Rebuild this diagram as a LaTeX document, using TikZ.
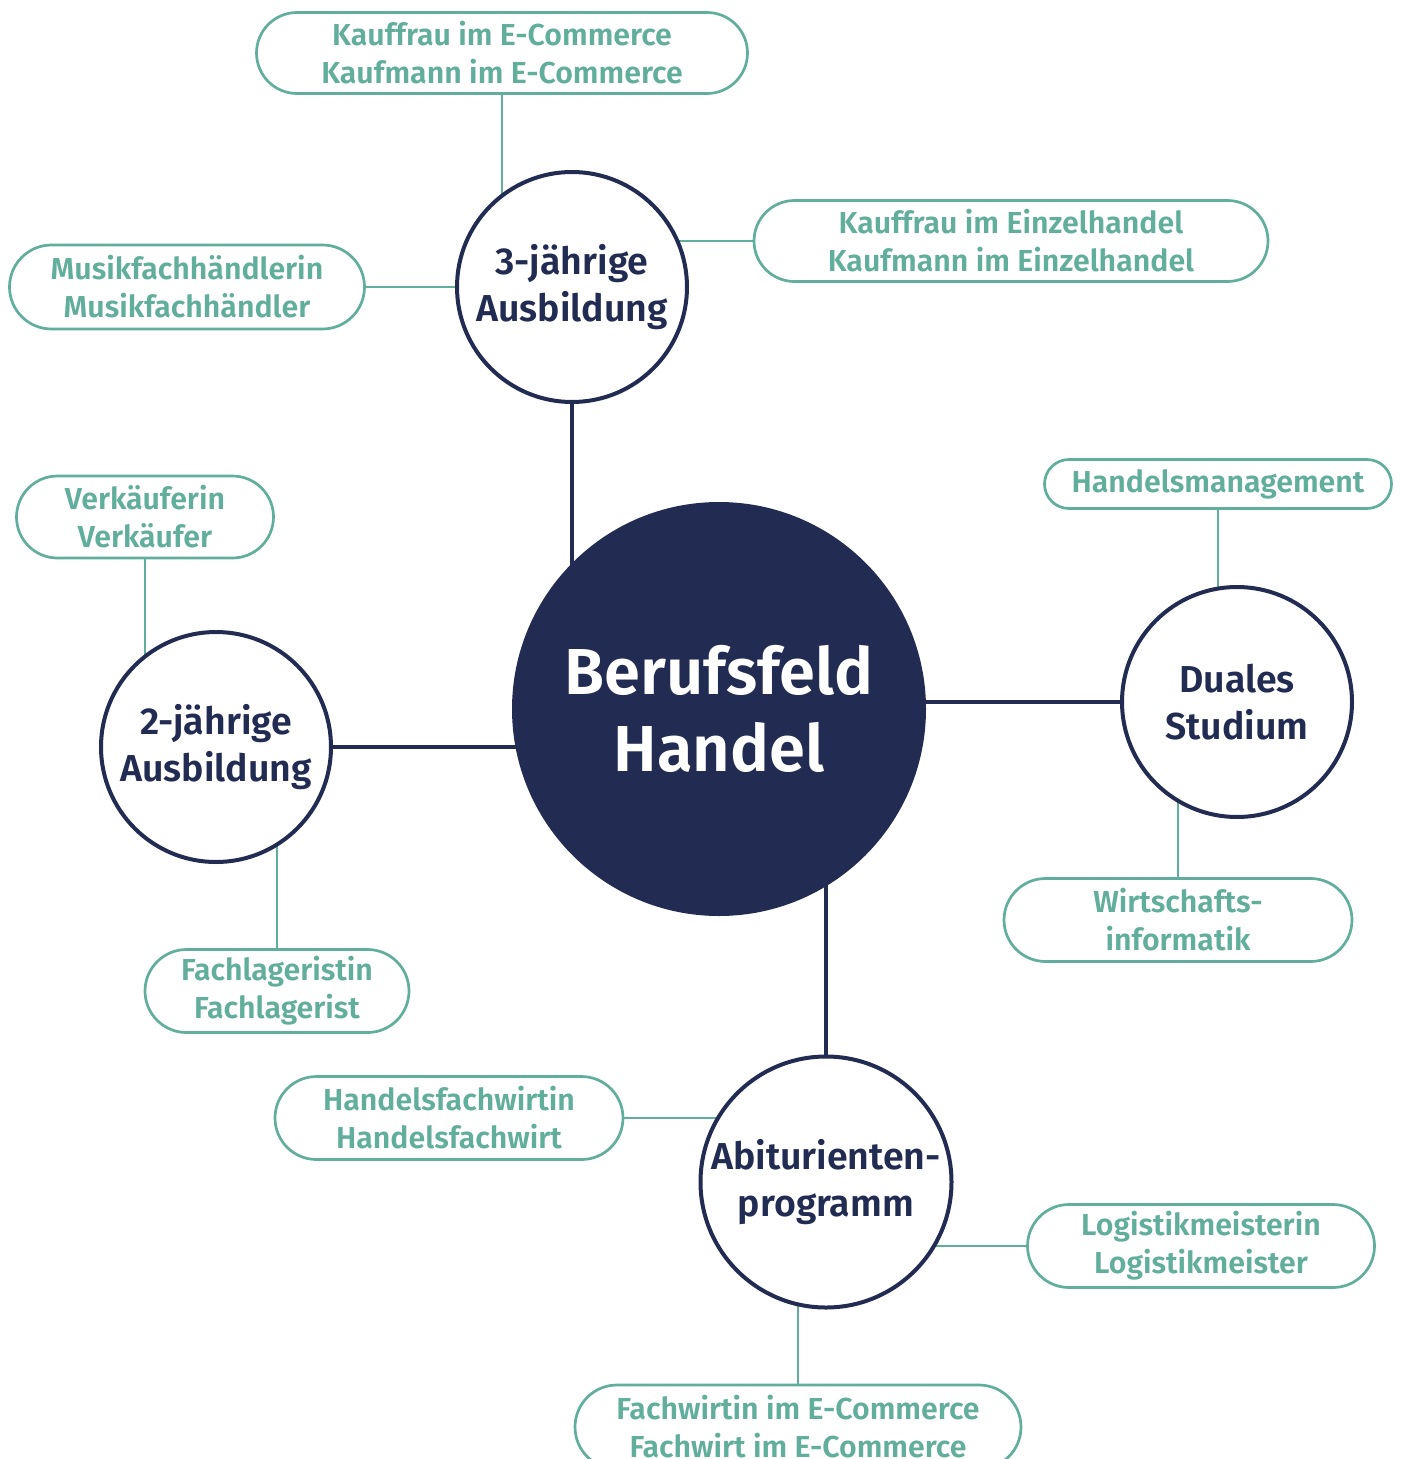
\documentclass[tikz,border=0pt]{standalone}
\usepackage{fontspec}
\setmainfont{Fira Sans}[BoldFont={Fira Sans SemiBold}]
\usepackage{xcolor}
\usepackage{tikz}
\usetikzlibrary{shapes.misc,backgrounds}

\definecolor{navy}{RGB}{34,43,82}
\definecolor{jobteal}{RGB}{96,174,155}

\tikzset{
  hub/.style={circle, fill=navy, text=white, minimum size=414pt, inner sep=0pt,
    align=center, font=\bfseries\fontsize{65}{77}\selectfont},
  track/.style={circle, draw=navy, line width=4pt, fill=white, text=navy,
    minimum size=230pt, inner sep=0pt, align=center,
    font=\bfseries\fontsize{37.5}{47}\selectfont},
  job/.style={rounded rectangle, draw=jobteal, line width=2.7pt, fill=white,
    text=jobteal, minimum height=81pt, inner sep=0pt, align=center,
    font=\bfseries\fontsize{30.3}{38}\selectfont},
  mainlink/.style={draw=navy, line width=4.5pt},
  joblink/.style={draw=jobteal, line width=2.4pt},
}

\begin{document}
\begin{tikzpicture}[x=1pt, y=-1pt]
  \useasboundingbox (0,0) rectangle (1402,1459);
  % Define nodes
  \node[hub] (beruf) at (719,709) {Berufsfeld\\Handel}; %
  \node[track] (drei) at (572,287) {3-jährige\\Ausbildung}; %
  \node[track] (zwei) at (216,747) {2-jährige\\Ausbildung}; %
  \node[track] (dual) at (1237,702) {Duales\\Studium}; %
  \node[track, minimum size=251pt] (abi) at (826,1182) {Abiturienten-\\programm};
  \node[job, minimum width=491pt] (ecom) at (502,53) {Kauffrau im E-Commerce\\Kaufmann im E-Commerce}; %
  \node[job, minimum width=514pt] (einzel) at (1011,241) {Kauffrau im Einzelhandel\\Kaufmann im Einzelhandel}; %
  \node[job, minimum width=355pt, minimum height=84pt] (musik) at (187,287) {Musikfachhändlerin\\Musikfachhändler}; %
  \node[job, minimum width=257pt, minimum height=82pt] (verk) at (145,517) {Verkäuferin\\Verkäufer}; %
  \node[job, minimum width=264pt, minimum height=83pt] (lager) at (277,991) {Fachlageristin\\Fachlagerist}; %
  \node[job, minimum width=347pt, minimum height=49pt] (hm) at (1218,484) {Handelsmanagement}; %
  \node[job, minimum width=348pt, minimum height=83pt] (wi) at (1178,920) {Wirtschafts-\\informatik}; %
  \node[job, minimum width=348pt, minimum height=83pt] (hfw) at (449,1118) {Handelsfachwirtin\\Handelsfachwirt}; %
  \node[job, minimum width=347pt, minimum height=83pt] (logi) at (1201,1246) {Logistikmeisterin\\Logistikmeister}; %
  \node[job, minimum width=446pt, minimum height=84pt] (fw) at (798,1427) {Fachwirtin im E-Commerce\\Fachwirt im E-Commerce};
  % Connect nodes
  \begin{scope}[on background layer]
    \draw[mainlink] (drei.south) -- (drei.south |- beruf.center);
    \draw[mainlink] (zwei.east) -- (zwei.east -| beruf.center);
    \draw[mainlink] (dual.west) -- (dual.west -| beruf.center);
    \draw[mainlink] (abi.north) -- (abi.north |- beruf.center);
    \draw[joblink] (ecom.south) -- (ecom.south |- drei.center);
    \draw[joblink] (einzel.west) -- (einzel.west -| drei.center);
    \draw[joblink] (musik.east) -- (musik.east -| drei.center);
    \draw[joblink] (verk.south) -- (verk.south |- zwei.center);
    \draw[joblink] (lager.north) -- (lager.north |- zwei.center);
    \draw[joblink] (hm.south) -- (hm.south |- dual.center);
    \draw[joblink] (wi.north) -- (wi.north |- dual.center);
    \draw[joblink] (hfw.east) -- (hfw.east -| abi.center);
    \draw[joblink] (logi.west) -- (logi.west -| abi.center);
    \draw[joblink] (fw.north) -- (fw.north |- abi.center);
  \end{scope}
\end{tikzpicture}
\end{document}
